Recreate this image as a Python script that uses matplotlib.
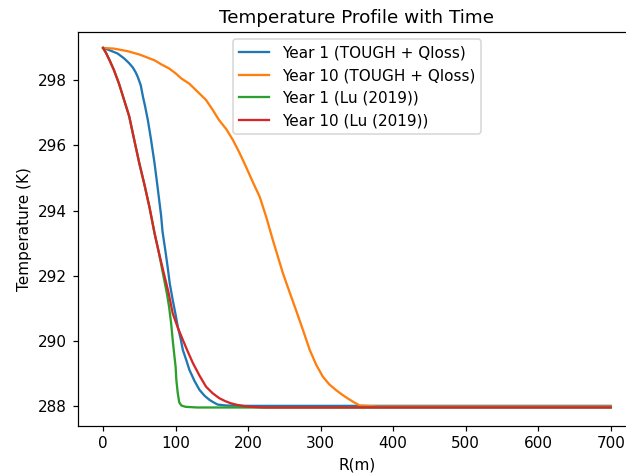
import matplotlib
matplotlib.use("Agg")
import matplotlib.pyplot as plt

# Year 1 (TOUGH + Qloss)
r_y1_tough = [0, 9, 20, 29, 36, 41, 45, 48, 52, 55, 58, 62, 66, 71, 75, 80, 82, 86, 89, 92, 96, 100, 103, 107,
              110, 115, 119, 126, 133, 140, 147, 153, 158, 170, 200, 700]
t_y1_tough = [299.0, 298.93, 298.83, 298.68, 298.53, 298.4, 298.25, 298.1, 297.85, 297.5, 297.2, 296.75, 296.2,
              295.45, 294.75, 293.85, 293.35, 292.75, 292.27, 291.75, 291.25, 290.8, 290.43, 290.05, 289.71,
              289.38, 289.1, 288.76, 288.48, 288.3, 288.17, 288.09, 288.03, 288.0, 287.99, 287.99]

# Year 10 (TOUGH + Qloss)
r_y10_tough = [0, 15, 34, 50, 64, 71, 80, 91, 100, 108, 119, 130, 142, 151, 160, 170, 179, 188, 197, 206, 216,
               225, 234, 248, 257, 266, 276, 285, 294, 303, 312, 321, 330, 338, 346, 354, 380, 700]
t_y10_tough = [299.0, 298.98, 298.9, 298.8, 298.68, 298.62, 298.5, 298.37, 298.22, 298.06, 297.9, 297.66, 297.4,
               297.1, 296.78, 296.5, 296.17, 295.78, 295.35, 294.9, 294.42, 293.8, 293.1, 292.07, 291.5, 290.94,
               290.3, 289.71, 289.25, 288.89, 288.65, 288.48, 288.33, 288.21, 288.1, 288.0, 287.97, 287.97]

# Year 1 (Lu (2019))
r_y1_lu = [0, 4, 9, 15, 22, 29, 36, 43, 50, 57, 64, 71, 77, 84, 88, 91, 94, 96, 98, 100, 101, 103, 105, 108,
           114, 130, 200, 700]
t_y1_lu = [299.0, 298.85, 298.62, 298.32, 297.9, 297.4, 296.9, 296.17, 295.45, 294.8, 294.1, 293.3, 292.7,
           291.9, 291.45, 291.04, 290.5, 290.02, 289.6, 289.2, 288.8, 288.38, 288.1, 288.0, 287.96, 287.94,
           287.94, 287.94]

# Year 10 (Lu (2019))
r_y10_lu = [0, 4, 9, 15, 22, 29, 36, 43, 50, 57, 64, 71, 77, 84, 90, 96, 103, 110, 117, 124, 133, 142, 151,
            160, 168, 176, 185, 197, 220, 700]
t_y10_lu = [299.0, 298.85, 298.62, 298.32, 297.9, 297.4, 296.9, 296.17, 295.45, 294.8, 294.1, 293.3, 292.7,
            292.05, 291.5, 290.84, 290.4, 290.02, 289.65, 289.3, 288.92, 288.58, 288.38, 288.23, 288.14, 288.07,
            288.02, 287.97, 287.94, 287.94]

fig = plt.figure(figsize=(626 / 110, 474 / 110), dpi=110)
ax = fig.add_axes([0.1241, 0.1019, 0.892, 0.8312])

ax.plot(r_y1_tough, t_y1_tough, label='Year 1 (TOUGH + Qloss)')
ax.plot(r_y10_tough, t_y10_tough, label='Year 10 (TOUGH + Qloss)')
ax.plot(r_y1_lu, t_y1_lu, label='Year 1 (Lu (2019))')
ax.plot(r_y10_lu, t_y10_lu, label='Year 10 (Lu (2019))')

ax.set_xlim(-35, 735)
ax.set_ylim(287.38, 299.5)
ax.set_xticks(range(0, 701, 100))
ax.set_yticks(range(288, 299, 2))

ax.set_title('Temperature Profile with Time')
ax.set_xlabel('R(m)')
ax.set_ylabel('Temperature (K)')
ax.legend(loc='upper center')

plt.savefig("out.png", dpi=110)
